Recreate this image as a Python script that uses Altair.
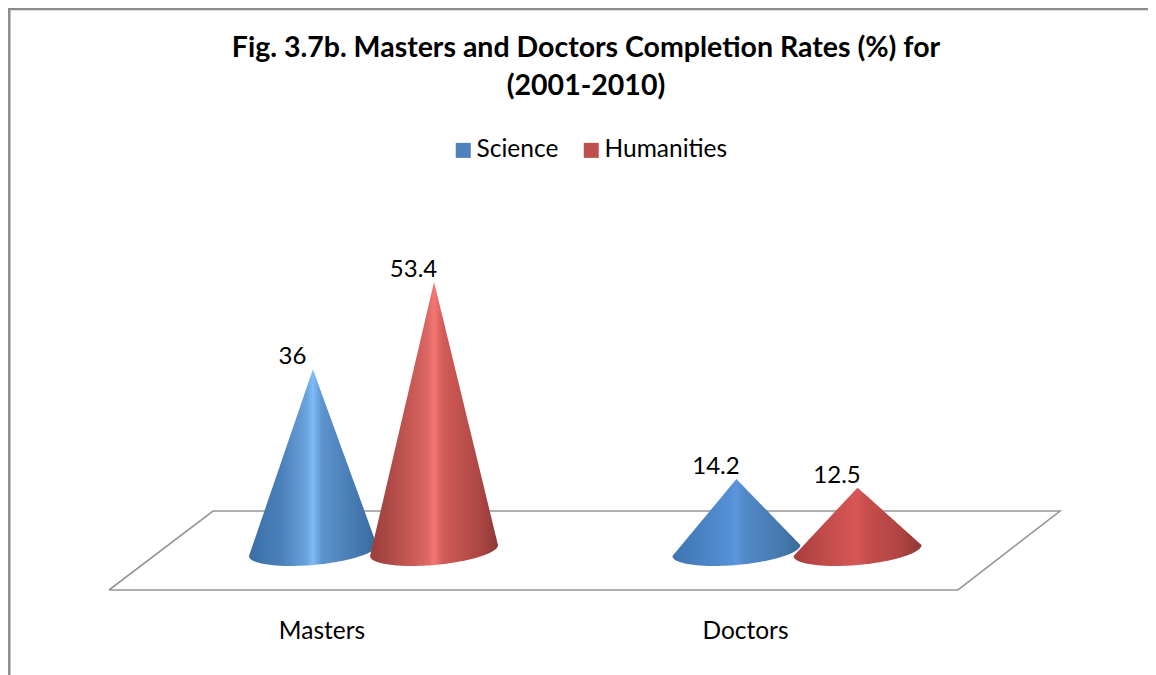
import math
import altair as alt
import pandas as pd

# ---- values ----
categories = ["Masters", "Doctors"]
series = ["Science", "Humanities"]
science = [36, 14.2]
humanities = [53.4, 12.5]
title_lines = ["Fig. 3.7b. Masters and Doctors Completion Rates (%) for", "(2001-2010)"]

# ---- style / geometry ----
FONT = "Lato"
LEGEND_COLORS = ["#4F81BD", "#C0504D"]
LINE = "#969696"
GROUP_OFFSET = 0.143
HALF_WIDTH = 0.151
TILT = 1.09
DEPTH = 2.88
X_DOMAIN = [-0.8630, 1.8288]
Y_DOMAIN = [-24.75, 87.97]

BRIGHT = {
    "Science": ["#3A6EA5", "#4A80BA", "#6AA3DC", "#7FBBF8", "#5C94CC", "#4478AE", "#3A6A98"],
    "Humanities": ["#993D3B", "#BD524E", "#DC6764", "#F57774", "#D25B58", "#AE4744", "#8C3937"],
}
FLAT = {
    "Science": ["#3F75B0", "#4A84C4", "#5590D6", "#5B96DC", "#5189C8", "#4579AE", "#3C6A98"],
    "Humanities": ["#A83D3C", "#C24C4A", "#D25453", "#D65756", "#C64E4C", "#AD4342", "#8E3837"],
}
OFFSETS = [0, 0.25, 0.45, 0.5, 0.57, 0.85, 1]

x_scale = alt.Scale(domain=X_DOMAIN, nice=False, zero=False)
y_scale = alt.Scale(domain=Y_DOMAIN, nice=False, zero=False)
X = lambda f="x": alt.X(f, type="quantitative", scale=x_scale, axis=None)
Y = lambda f="y": alt.Y(f, type="quantitative", scale=y_scale, axis=None)


def cone_frame(center, value, n=80):
    rows = []
    for i in range(n + 1):
        s = -math.cos(math.pi * i / n)
        if i == n // 2:
            s = 0.0
        edge = -TILT if s < 0 else TILT
        top = value + (edge - value) * abs(s)
        bottom = TILT * s - DEPTH * math.sqrt(max(0.0, 1 - s * s))
        rows.append({"x": center + HALF_WIDTH * s, "y": top, "y2": bottom})
    return pd.DataFrame(rows)


def cone(center, value, stops):
    grad = alt.Gradient(
        gradient="linear", x1=0, x2=1, y1=0, y2=0,
        stops=[alt.GradientStop(offset=o, color=c) for o, c in zip(OFFSETS, stops)],
    )
    return alt.Chart(cone_frame(center, value)).mark_area(color=grad, clip=False).encode(
        x=X(), y=Y(), y2=alt.Y2("y2")
    )


rows = []
for name, vals, sign in zip(series, [science, humanities], [-1, 1]):
    for i, (c, v) in enumerate(zip(categories, vals)):
        rows.append({"series": name, "cat": c, "value": v, "label": str(v),
                     "x": i + sign * GROUP_OFFSET})
points = pd.DataFrame(rows)

# floor of the 3-D plot
floor = pd.DataFrame({
    "x": [-0.6245, -0.379, 1.621, 1.380, -0.6245],
    "y": [-7.85, 7.85, 7.85, -7.85, -7.85],
    "o": [0, 1, 2, 3, 4],
})
floor_line = alt.Chart(floor).mark_line(color=LINE, strokeWidth=1.6).encode(
    x=X(), y=Y(), order="o:Q"
)

# carrier of the legend (tiny marks hidden behind the cones)
legend_layer = alt.Chart(points).mark_point(filled=True, shape="square", size=1, opacity=1).encode(
    x=X(), y=alt.Y("v:Q", scale=y_scale, axis=None),
    color=alt.Color(
        "series:N",
        scale=alt.Scale(domain=series, range=LEGEND_COLORS),
        legend=alt.Legend(
            title=None, orient="none", legendX=443, legendY=30, direction="horizontal",
            symbolType="square", symbolSize=225, symbolStrokeWidth=0, symbolOpacity=1,
            labelFont=FONT, labelFontSize=24.5, labelColor="#000000", labelOffset=1,
            columnPadding=20, symbolOffset=0, padding=0,
        ),
    ),
).transform_calculate(v="1")

cones = []
for name, vals, sign in zip(series, [science, humanities], [-1, 1]):
    for i, v in enumerate(vals):
        palette = BRIGHT if i == 0 else FLAT
        cones.append(cone(i + sign * GROUP_OFFSET, v, palette[name]))

value_labels = alt.Chart(points).mark_text(
    font=FONT, fontSize=24, color="#000000", dx=-20.5, dy=-12, baseline="middle"
).encode(x=X(), y=Y("value"), text="label:N")

cat_frame = pd.DataFrame({"x": list(range(len(categories))), "cat": categories})
cat_labels = alt.Chart(cat_frame).mark_text(
    font=FONT, fontSize=24.5, color="#000000", dx=-51.5, baseline="middle"
).encode(x=X(), y=alt.Y("v:Q", scale=y_scale, axis=None), text="cat:N").transform_calculate(v="-16.2")

# chart frame (left and top edge only are visible in the picture)
frame_left = alt.Chart(pd.DataFrame({"a": [0]})).mark_rule(color="#8C8C8C", strokeWidth=2.5).encode(
    x=alt.value(1.3), y=alt.value(-100), y2=alt.value(567)
)
frame_top = alt.Chart(pd.DataFrame({"a": [0]})).mark_rule(color="#8C8C8C", strokeWidth=2.5).encode(
    x=alt.value(0), x2=alt.value(1140), y=alt.value(-99)
)

chart = alt.layer(
    frame_left, frame_top, floor_line, legend_layer, *cones, value_labels, cat_labels
).properties(
    width=1140,
    height=567,
    padding={"left": 0, "top": 100, "right": 0, "bottom": 0},
    autosize=alt.AutoSizeParams(type="none"),
    title=alt.TitleParams(
        text=title_lines, font=FONT, fontSize=28.5, fontWeight="bold", color="#000000",
        anchor="middle", lineHeight=38, offset=8, dx=8, dy=125, baseline="alphabetic",
    ),
).configure_view(stroke=None)

chart.save("out.html", embed_options={"renderer": "svg", "actions": False})
